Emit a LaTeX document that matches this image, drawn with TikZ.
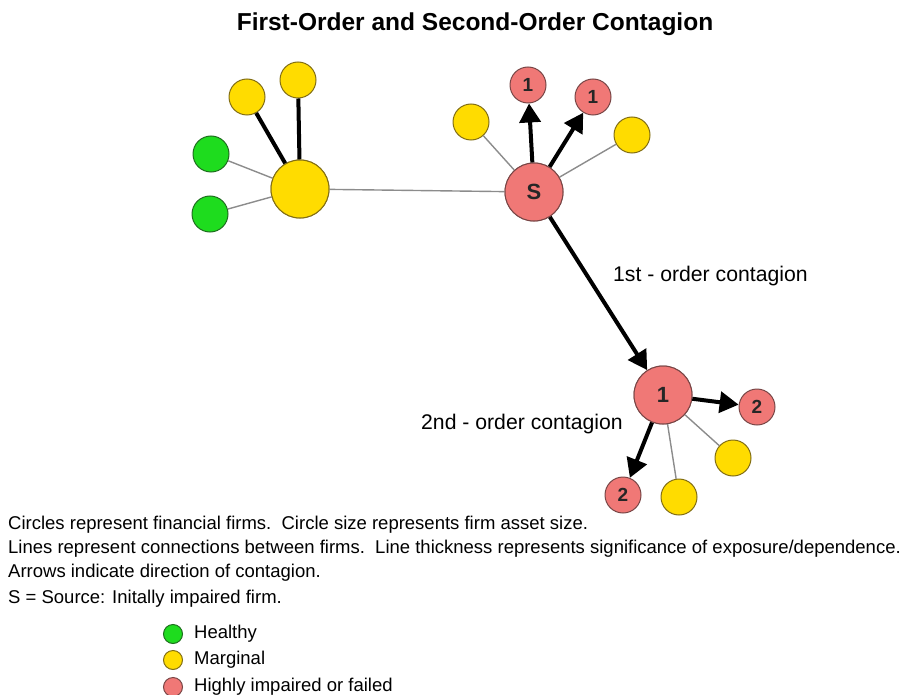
\documentclass[tikz,border=0pt]{standalone}
\usepackage{fontspec}
\setmainfont{Liberation Sans}
\usetikzlibrary{arrows.meta}
\definecolor{fred}{RGB}{240,120,118}
\definecolor{fyel}{RGB}{255,220,0}
\definecolor{fgrn}{RGB}{30,220,30}
\definecolor{ored}{RGB}{120,70,70}
\definecolor{oyel}{RGB}{130,110,20}
\definecolor{ogrn}{RGB}{30,110,30}
\tikzset{
  firm/.style={circle,inner sep=0pt,line width=1pt,font=\bfseries\fontsize{19}{19}\selectfont,text=black!85},
  big/.style={firm,minimum size=58pt,font=\bfseries\fontsize{22}{22}\selectfont},
  small/.style={firm,minimum size=36pt},
  red/.style={fill=fred,draw=ored},
  yel/.style={fill=fyel,draw=oyel},
  grn/.style={fill=fgrn,draw=ogrn},
  weak/.style={draw=black!45,line width=1.4pt},
  strong/.style={draw=black,line width=4pt},
  contag/.style={draw=black,line width=4pt,-{Triangle[length=19pt,width=21pt]}},
  txt/.style={font=\fontsize{18.5}{21}\selectfont,inner sep=0pt,anchor=west},
  lbl/.style={font=\fontsize{21.2}{24}\selectfont,inner sep=0pt,anchor=west},
  leg/.style={circle,inner sep=0pt,minimum size=19pt,line width=1pt}
}
\begin{document}
\begin{tikzpicture}[x=1pt,y=-1pt]
\useasboundingbox (0,0) rectangle (912,695);
% nodes
\node[big,yel] (hub) at (300,189) {};
\node[small,yel] (ytl) at (247,97) {};
\node[small,yel] (yt) at (298,80) {};
\node[small,grn] (g1) at (211,154) {};
\node[small,grn] (g2) at (210,214) {};
\node[big,red] (S) at (534,192) {S};
\node[small,red] (r1a) at (528,85) {1};
\node[small,red] (r1b) at (593,97) {1};
\node[small,yel] (ysl) at (471,122) {};
\node[small,yel] (ysr) at (632,135) {};
\node[big,red] (M) at (663,395) {1};
\node[small,red] (r2a) at (757,407) {2};
\node[small,red] (r2b) at (623,495) {2};
\node[small,yel] (yb) at (679,497) {};
\node[small,yel] (ybr) at (733,458) {};
% edges
\path[weak] (hub) -- (S);
\path[weak] (hub) -- (g1);
\path[weak] (hub) -- (g2);
\path[strong] (hub) -- (ytl);
\path[strong] (hub) -- (yt);
\path[weak] (S) -- (ysl);
\path[weak] (S) -- (ysr);
\path[contag] (S) -- (r1a);
\path[contag] (S) -- (r1b);
\path[contag] (S) -- (M);
\path[contag] (M) -- (r2a);
\path[contag] (M) -- (r2b);
\path[weak] (M) -- (yb);
\path[weak] (M) -- (ybr);
% redraw nodes over edges
\node[big,yel] at (hub) {};
\node[big,red] at (S) {S};
\node[big,red] at (M) {1};
% labels
\node[font=\bfseries\fontsize{24.5}{27}\selectfont] (title) at (475,24) {First-Order and Second-Order Contagion};
\node[lbl] (l1) at (613,276) {1st - order contagion};
\node[lbl] (l2) at (421,424) {2nd - order contagion};
\node[txt] (c1) at (8,525) {Circles represent financial firms.\ \ Circle size represents firm asset size.};
\node[txt] (c2) at (8,549) {Lines represent connections between firms.\ \ Line thickness represents significance of exposure/dependence.};
\node[txt] (c3) at (8,573) {Arrows indicate direction of contagion.};
\node[txt] (c4) at (8,599) {S = Source: Initally impaired firm.};
\node[leg,grn] (lg) at (173,634) {};
\node[leg,yel] (ly) at (173,660) {};
\node[leg,red] (lr) at (173,687) {};
\node[txt] (tg) at (194,634) {Healthy};
\node[txt] (ty) at (194,660) {Marginal};
\node[txt] (tr) at (194,687) {Highly impaired or failed};
\end{tikzpicture}
\end{document}
